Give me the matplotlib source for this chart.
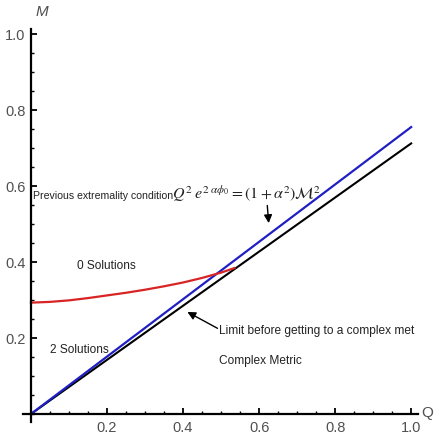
import numpy as np
import matplotlib
matplotlib.use("Agg")
import matplotlib.pyplot as plt
from matplotlib.ticker import MultipleLocator

plt.rcParams['font.family'] = ['Liberation Sans', 'DejaVu Sans']
plt.rcParams['mathtext.fontset'] = 'stix'

# Data
black_Q = [0.0, 1.0]
black_M = [0.0, 0.712]
blue_Q = [0.0, 1.0]
blue_M = [0.0, 0.755]
red_Q = [0.0, 0.05, 0.1, 0.15, 0.2, 0.25, 0.3, 0.35, 0.4, 0.45, 0.5, 0.535]
red_M = [0.293, 0.295, 0.299, 0.305, 0.312, 0.319, 0.327, 0.336, 0.346, 0.358, 0.372, 0.384]

xticks = [0.2, 0.4, 0.6, 0.8, 1.0]
yticks = [0.2, 0.4, 0.6, 0.8, 1.0]

fig = plt.figure(figsize=(4.4, 4.35), dpi=100)
ax = fig.add_axes([0.053, 0.0285, 0.897, 0.9025])

ax.plot(black_Q, black_M, color='black', lw=1.5)
ax.plot(blue_Q, blue_M, color='#1f1fc4', lw=1.6)
ax.plot(red_Q, red_M, color='#d82424', lw=1.6)

ax.set_xlim(-0.02, 1.018)
ax.set_ylim(-0.02, 1.013)

for s in ['top', 'right']:
    ax.spines[s].set_visible(False)
ax.spines['left'].set_position(('data', 0))
ax.spines['bottom'].set_position(('data', 0))
ax.spines['left'].set_linewidth(1.6)
ax.spines['bottom'].set_linewidth(1.6)

ax.set_xticks(xticks)
ax.set_yticks(yticks)
ax.xaxis.set_minor_locator(MultipleLocator(0.05))
ax.yaxis.set_minor_locator(MultipleLocator(0.05))
ax.tick_params(which='major', direction='in', length=4.5, width=1.3,
               labelsize=10.5, labelcolor='#505050', pad=4)
ax.tick_params(which='minor', direction='in', length=2.5, width=1.0)

# axis labels
fig.text(42 / 440, 1 - 12 / 435, 'M', fontsize=11, style='italic', color='#505050',
         ha='center', va='center')
fig.text(427 / 440, 1 - 413 / 435, 'Q', fontsize=11, color='#505050',
         ha='center', va='center')

txt = dict(fontsize=8.6, color='#222222', va='baseline')
ax.text(0.005, 0.568, 'Previous extremality condition', fontsize=7.6,
        color='#222222', va='baseline')
ax.text(0.372, 0.568,
        r'$Q^2\;e^{2\;\alpha\phi_0}=\left(1+\alpha^2\right)\mathcal{M}^2$',
        fontsize=11.5, color='#222222', va='baseline')
ax.text(0.12, 0.384, '0 Solutions', **txt)
ax.text(0.05, 0.163, '2 Solutions', **txt)
ax.text(0.495, 0.213, 'Limit before getting to a complex met', **txt)
ax.text(0.495, 0.134, 'Complex Metric', **txt)

arrow = dict(arrowstyle='-|>', color='black', lw=1.0, mutation_scale=12)
ax.annotate('', xy=(0.626, 0.495), xytext=(0.621, 0.556), arrowprops=arrow)
ax.annotate('', xy=(0.405, 0.272), xytext=(0.497, 0.222), arrowprops=arrow)

fig.savefig('out.png', dpi=100)
